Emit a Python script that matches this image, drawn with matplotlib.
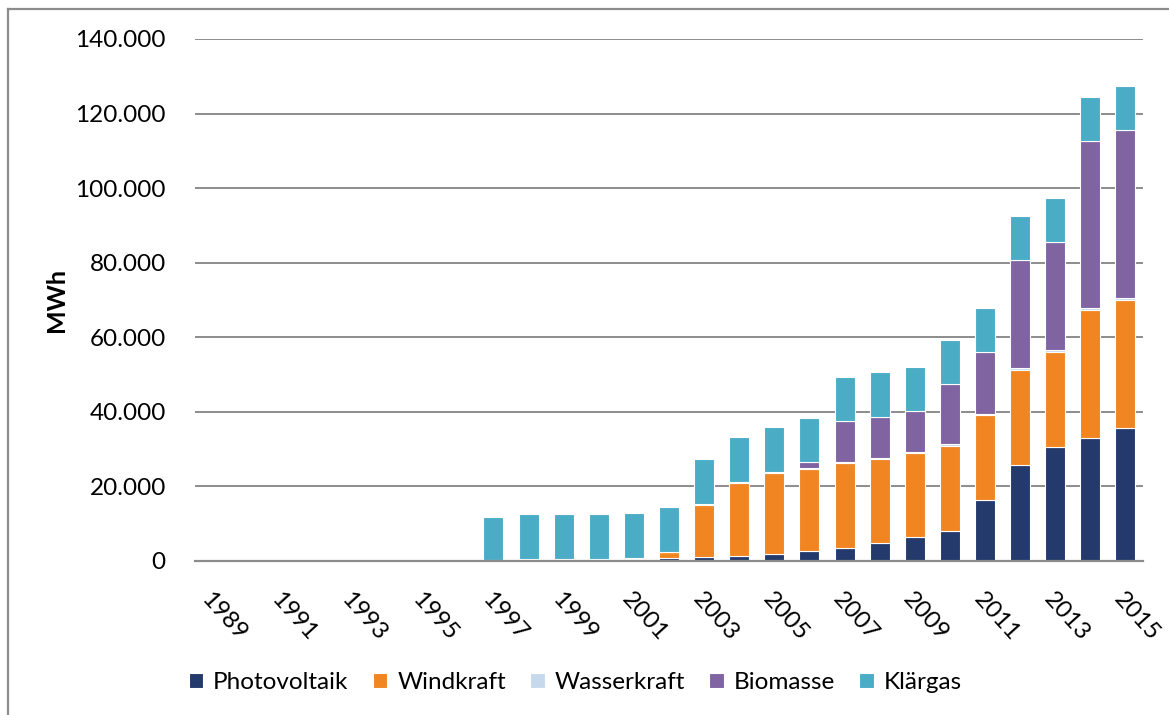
import matplotlib.pyplot as plt
import numpy as np
from matplotlib.lines import Line2D
from matplotlib.ticker import FuncFormatter

plt.rcParams['font.family'] = ['Lato', 'DejaVu Sans']

years = list(range(1989, 2016))

# MWh
photovoltaik = [0, 0, 0, 0, 0, 0, 0, 0, 0, 100, 150, 200, 400, 900, 1200, 1400, 2000,
                2800, 3600, 4700, 6300, 8000, 16300, 25800, 30600, 32900, 35700]
windkraft = [0, 0, 0, 0, 0, 0, 0, 0, 0, 0, 0, 0, 0, 1400, 13700, 19500, 21600,
             21800, 22700, 22700, 22700, 22800, 22800, 25500, 25500, 34500, 34400]
wasserkraft = [50, 50, 50, 50, 60, 60, 80, 200, 300, 300, 300, 400, 350, 200, 300, 300, 300,
               400, 300, 300, 200, 500, 400, 400, 400, 400, 300]
biomasse = [0, 0, 0, 0, 0, 0, 0, 0, 0, 0, 0, 0, 0, 0, 0, 0, 0,
            1500, 11000, 11000, 11000, 16300, 16500, 28900, 29100, 44900, 45100]
klaergas = [0, 0, 0, 0, 0, 0, 0, 200, 11500, 12100, 12050, 12000, 12150, 12000, 12100, 12100, 12000,
            11800, 11800, 11900, 11900, 11800, 11800, 12000, 11800, 11800, 11900]

series = [
    ("Photovoltaik", photovoltaik, "#243a6c"),
    ("Windkraft", windkraft, "#f08522"),
    ("Wasserkraft", wasserkraft, "#c6d9ec"),
    ("Biomasse", biomasse, "#8064a2"),
    ("Klärgas", klaergas, "#4bacc6"),
]

fig = plt.figure(figsize=(11.69, 7.15), dpi=100)
ax = fig.add_axes([0.1668, 0.2154, 0.8110, 0.7301])

x = np.arange(len(years))
bottom = np.zeros(len(years))
for name, vals, col in series:
    vals = np.array(vals, dtype=float)
    ax.bar(x, vals, 0.57, bottom=bottom, color=col, edgecolor='white',
           linewidth=0.8, label=name, zorder=3)
    bottom += vals

ax.set_xlim(-0.5, len(years) - 0.5)
ax.set_ylim(0, 140000)
ax.set_yticks(np.arange(0, 140001, 20000))
ax.yaxis.set_major_formatter(FuncFormatter(lambda v, p: f"{int(v):,}".replace(",", ".")))
ax.grid(axis='y', color='#8c8c8c', linewidth=1.4, zorder=0)
ax.tick_params(axis='y', length=0, pad=21, labelsize=17.5)

ax.set_xticks(x[::2])
ax.set_xticklabels([str(y) for y in years[::2]])
ax.tick_params(axis='x', length=0, pad=20, labelsize=17.5)
for lbl in ax.get_xticklabels():
    lbl.set_rotation(-48)
    lbl.set_ha('left')
    lbl.set_va('top')
    lbl.set_rotation_mode('anchor')

for s in ['top', 'right', 'left']:
    ax.spines[s].set_visible(False)
ax.spines['bottom'].set_color('#8c8c8c')
ax.spines['bottom'].set_linewidth(1.6)
ax.spines['bottom'].set_zorder(4)

ax.set_ylabel("MWh", fontsize=18, fontweight='bold', labelpad=5)

fig.legend(loc='center', bbox_to_anchor=(0.492, 0.045), ncol=5, frameon=False,
           fontsize=17.5, handlelength=0.6, handleheight=0.6, handletextpad=0.4,
           columnspacing=1.0)

# Rahmen
fig.add_artist(Line2D([8 / 1169, 8 / 1169], [0, 1 - 9 / 715], color='#8c8c8c', lw=1.6))
fig.add_artist(Line2D([8 / 1169, 1], [1 - 9 / 715, 1 - 9 / 715], color='#8c8c8c', lw=1.6))

fig.savefig("out.png", dpi=100)
